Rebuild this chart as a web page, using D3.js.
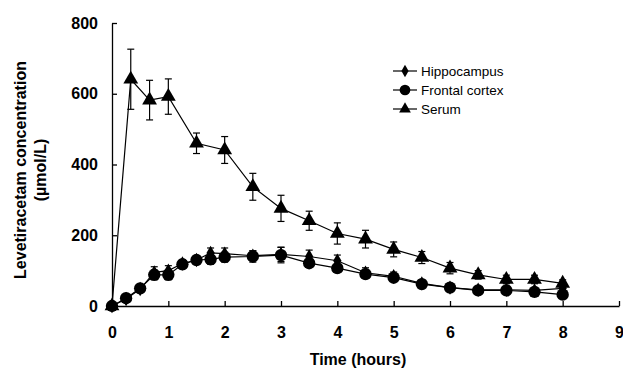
<!DOCTYPE html>
<html>
<head>
<meta charset="utf-8">
<script src="https://cdn.jsdelivr.net/npm/d3@7"></script>
<style>
  body { margin: 0; background: #fff; }
  text { font-family: "Liberation Sans", Arial, sans-serif; }
</style>
</head>
<body>
<script>
const w = 623
const h = 369

// sampling times (hours)
const brainTimes = [0, 0.25, 0.5, 0.75, 1, 1.25, 1.5, 1.75, 2, 2.5, 3, 3.5, 4, 4.5, 5, 5.5, 6, 6.5, 7, 7.5, 8]
const serumTimes = [0, 0.333, 0.667, 1, 1.5, 2, 2.5, 3, 3.5, 4, 4.5, 5, 5.5, 6, 6.5, 7, 7.5, 8]

const hippocampus = [0, 20, 48, 95, 100, 120, 130, 150, 148, 142, 146, 140, 128, 94, 84, 64, 52, 46, 46, 44, 50]
const hippocampusErr = [0, 4, 8, 16, 14, 10, 10, 14, 16, 14, 20, 18, 16, 14, 12, 10, 6, 6, 6, 6, 6]
const frontal = [0, 22, 50, 88, 88, 118, 130, 132, 138, 140, 144, 121, 107, 90, 80, 62, 52, 44, 44, 40, 32]
const frontalErr = [0, 4, 10, 14, 14, 12, 10, 14, 14, 16, 22, 12, 10, 10, 10, 8, 6, 6, 6, 6, 6]
const serum = [0, 641, 582, 592, 460, 441, 337, 276, 241, 205, 189, 160, 137, 107, 88, 75, 75, 64]
const serumErr = [0, 85, 56, 50, 29, 38, 38, 37, 27, 30, 25, 21, 17, 16, 12, 12, 12, 10]

const xTicks = [0, 1, 2, 3, 4, 5, 6, 7, 8, 9]
const yTicks = [0, 200, 400, 600, 800]
const legendNames = ['Hippocampus', 'Frontal cortex', 'Serum']

const margin = {top: 23, right: 4, bottom: 63, left: 112}

const x = d3.scaleLinear().domain([0, 9]).range([margin.left, w - margin.right])
const y = d3.scaleLinear().domain([0, 800]).range([h - margin.bottom, margin.top])

const svg = d3.select('body').append('svg')
    .attr('width', w)
    .attr('height', h)

// axes, ticks pointing inward
const xAxis = svg.append('g')
    .attr('transform', `translate(0,${y(0)})`)
    .call(d3.axisBottom(x).tickValues(xTicks).tickSizeInner(-5).tickSizeOuter(0).tickPadding(21))
const yAxis = svg.append('g')
    .attr('transform', `translate(${x(0)},0)`)
    .call(d3.axisLeft(y).tickValues(yTicks).tickSizeInner(-5).tickSizeOuter(0).tickPadding(14))

svg.selectAll('.domain, .tick line').attr('stroke', '#000').attr('stroke-width', 1.3)
svg.selectAll('.tick text')
    .style('font-family', '"Liberation Sans", Arial, sans-serif')
    .style('font-size', '16px')
    .style('font-weight', 'bold')
    .attr('fill', '#000')

// axis titles
svg.append('text')
    .attr('x', 358).attr('y', 365)
    .attr('text-anchor', 'middle')
    .style('font-size', '16px').style('font-weight', 'bold')
    .text('Time (hours)')

const yt = svg.append('text')
    .attr('transform', 'translate(26,170) rotate(-90)')
    .attr('text-anchor', 'middle')
    .style('font-size', '16px').style('font-weight', 'bold')
yt.append('tspan').attr('x', 0).attr('y', 0).text('Levetiracetam concentration')
yt.append('tspan').attr('x', 0).attr('y', 20).text('(µmol/L)')

function makeSeries(times, vals, errs) {
    return times.map(function (t, i) { return {t: t, v: vals[i], e: errs[i]} })
}

const line = d3.line()
    .x(function (d) { return x(d.t) })
    .y(function (d) { return y(d.v) })

function drawSeries(data, symbolType, size) {
    const g = svg.append('g')
    g.append('path')
        .datum(data)
        .attr('d', line)
        .attr('fill', 'none')
        .attr('stroke', '#000')
        .attr('stroke-width', 1.2)

    const bars = g.selectAll('.err')
        .data(data.filter(function (d) { return d.e > 0 }))
        .enter().append('g')
    bars.append('line')
        .attr('x1', function (d) { return x(d.t) }).attr('x2', function (d) { return x(d.t) })
        .attr('y1', function (d) { return y(d.v + d.e) }).attr('y2', function (d) { return y(d.v - d.e) })
        .attr('stroke', '#000').attr('stroke-width', 1.2)
    bars.selectAll('.cap')
        .data(function (d) { return [d.v + d.e, d.v - d.e] })
        .enter().append('line')
        .attr('x1', function () { return x(d3.select(this.parentNode).datum().t) - 3.5 })
        .attr('x2', function () { return x(d3.select(this.parentNode).datum().t) + 3.5 })
        .attr('y1', function (v) { return y(v) }).attr('y2', function (v) { return y(v) })
        .attr('stroke', '#000').attr('stroke-width', 1.2)

    g.selectAll('.pt')
        .data(data)
        .enter().append('path')
        .attr('d', d3.symbol().type(symbolType).size(size))
        .attr('transform', function (d) { return `translate(${x(d.t)},${y(d.v)})` })
        .attr('fill', '#000')
}

drawSeries(makeSeries(serumTimes, serum, serumErr), d3.symbolTriangle, 95)
drawSeries(makeSeries(brainTimes, hippocampus, hippocampusErr), d3.symbolDiamond, 60)
drawSeries(makeSeries(brainTimes, frontal, frontalErr), d3.symbolCircle, 120)

// legend
const legendSymbols = [[d3.symbolDiamond, 45], [d3.symbolCircle, 90], [d3.symbolTriangle, 60]]
const legend = svg.append('g')
legendNames.forEach(function (name, i) {
    const ly = 71 + i * 19
    legend.append('line')
        .attr('x1', 393).attr('x2', 417).attr('y1', ly).attr('y2', ly)
        .attr('stroke', '#000').attr('stroke-width', 1.2)
    legend.append('path')
        .attr('d', d3.symbol().type(legendSymbols[i][0]).size(legendSymbols[i][1]))
        .attr('transform', `translate(405,${ly})`)
        .attr('fill', '#000')
    legend.append('text')
        .attr('x', 421).attr('y', ly + 5)
        .style('font-size', '13.5px')
        .text(name)
})
</script>
</body>
</html>
